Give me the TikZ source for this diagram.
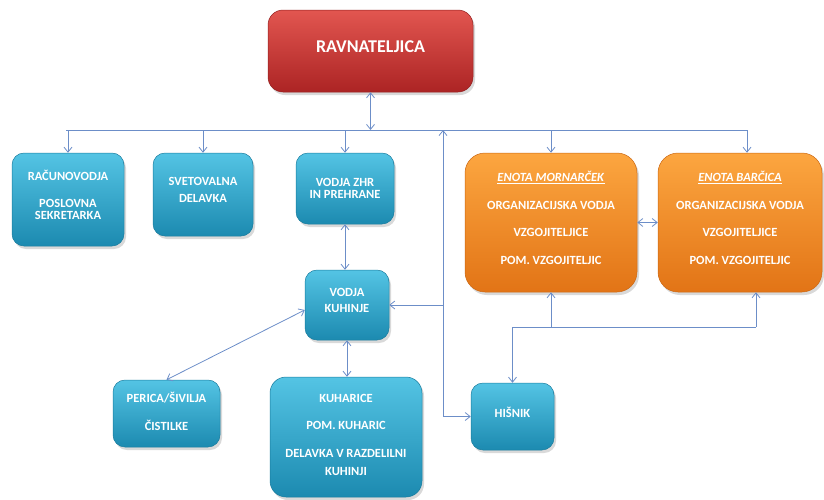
\documentclass[tikz,border=0pt]{standalone}
\usepackage{fontspec}
\setmainfont{Carlito}
\usepackage{xcolor}
\usetikzlibrary{arrows.meta, positioning, shadows}

\definecolor{cyantop}{RGB}{84,196,228}
\definecolor{cyanbot}{RGB}{28,138,176}
\definecolor{redtop}{RGB}{226,86,80}
\definecolor{redbot}{RGB}{172,36,36}
\definecolor{orgtop}{RGB}{252,166,64}
\definecolor{orgbot}{RGB}{226,116,22}
\definecolor{linkblue}{RGB}{108,142,200}

\begin{document}
\begin{tikzpicture}[x=1pt, y=-1pt,
    % ── Box node style ───────────────────────────────────────────────
    box/.style={
        rounded corners=12pt, align=center, text=white,
        font=\fontsize{12.5}{12.5}\selectfont\bfseries,
        inner sep=2pt, text depth=9pt, line width=0.5pt,
        drop shadow={opacity=0.3, shadow xshift=2pt, shadow yshift=-3pt}
    },
    % ── Box fill colours ─────────────────────────────────────────────
    head/.style={top color=redtop, bottom color=redbot, draw=redbot!85!black},
    staff/.style={top color=cyantop, bottom color=cyanbot, draw=cyanbot!90!black},
    unit/.style={top color=orgtop, bottom color=orgbot, draw=orgbot!90!black},
    % ── Connectors: thin blue lines, open tips ───────────────────────
    link/.style={line width=0.8pt, draw=linkblue},
    arrow/.style={link, -{Straight Barb[length=5pt, width=8pt]}},
    twoway/.style={link, {Straight Barb[length=5pt, width=8pt]}-{Straight Barb[length=5pt, width=8pt]}}
]
\useasboundingbox (0,0) rectangle (824,499);

% ══════════════════════════════════════════════════════════════════════
% NODE PLACEMENT
% ══════════════════════════════════════════════════════════════════════

    % ── Head ──────────────────────────────────────────────────────
    \node[box, head, minimum width=205pt, minimum height=82pt,
          rounded corners=15pt, font=\fontsize{18}{18}\selectfont\bfseries]
        (ravn) at (370.5, 51) {RAVNATELJICA};

    % ── First row ─────────────────────────────────────────────────
    \node[box, staff, minimum width=112pt, minimum height=93pt]
        (racun) at (68, 199.5) {
        RAČUNOVODJA\\[14pt]
        POSLOVNA\\SEKRETARKA
    };
    \node[box, staff, minimum width=100pt, minimum height=83pt]
        (svet) at (203, 194.5) {SVETOVALNA\\[4pt]DELAVKA};
    \node[box, staff, minimum width=98pt, minimum height=71pt, text depth=0pt]
        (zhr) at (345, 188.5) {VODJA ZHR\\IN PREHRANE};
    \node[box, unit, minimum width=172pt, minimum height=139pt,
          rounded corners=20pt]
        (morn) at (551, 222.5) {
        \underline{\textit{ENOTA MORNARČEK}}\\[15pt]
        ORGANIZACIJSKA VODJA\\[15pt]
        VZGOJITELJICE\\[15pt]
        POM. VZGOJITELJIC
    };
    \node[box, unit, minimum width=164pt, minimum height=139pt,
          rounded corners=20pt]
        (barc) at (740, 222.5) {
        \underline{\textit{ENOTA BARČICA}}\\[15pt]
        ORGANIZACIJSKA VODJA\\[15pt]
        VZGOJITELJICE\\[15pt]
        POM. VZGOJITELJIC
    };

    % ── Kitchen ───────────────────────────────────────────────────
    \node[box, staff, minimum width=84pt, minimum height=70pt]
        (kuh) at (347, 305) {VODJA\\[4pt]KUHINJE};
    \node[box, staff, minimum width=107pt, minimum height=67pt, text depth=4pt]
        (peric) at (166.5, 413.5) {PERICA/ŠIVILJA\\[15pt]ČISTILKE};
    \node[box, staff, minimum width=152pt, minimum height=120pt,
          rounded corners=16pt, text depth=4pt]
        (kuhar) at (346, 437) {
        KUHARICE\\[15pt]
        POM. KUHARIC\\[15pt]
        DELAVKA V RAZDELILNI\\[6pt]
        KUHINJI
    };
    \node[box, staff, minimum width=83pt, minimum height=67pt]
        (hisnik) at (512.5, 416.5) {HIŠNIK};

% ══════════════════════════════════════════════════════════════════════
% CONNECTIONS
% ══════════════════════════════════════════════════════════════════════

    \coordinate (busL) at (66, 130);
    \coordinate (busR) at (747, 130);
    \coordinate (busM) at (443, 130);

    \draw[twoway] (ravn.south) -- (ravn.south |- busL);
    \draw[link] (busL) -- (busR);

    \draw[arrow] (racun.north |- busL) -- (racun.north);
    \draw[arrow] (svet.north |- busL) -- (svet.north);
    \draw[arrow] (zhr.north |- busL) -- (zhr.north);
    \draw[arrow] (morn.north |- busL) -- (morn.north);
    \draw[arrow] (busR) -- (busR |- barc.north);

    % ── Feeder down the middle ───────────────────────────────────
    \draw[twoway] (busM) |- (hisnik.west);
    \draw[arrow] (busM |- kuh.east) -- (kuh.east);

    \draw[twoway] (zhr.south) -- (zhr.south |- kuh.north);
    \draw[twoway] (kuh.south) -- (kuh.south |- kuhar.north);
    \draw[twoway] ([yshift=-5pt]kuh.west) -- (peric.north);

    \draw[twoway] (morn.east) -- (barc.west);

    % ── Caretaker to both units ──────────────────────────────────
    \coordinate (hbus) at (hisnik.north |- 0, 327);
    \coordinate (hR) at (756, 327);
    \draw[arrow] (hbus) -- (hisnik.north);
    \draw[link] (hbus) -- (hR);
    \draw[arrow] (hbus -| morn.south) -- (morn.south);
    \draw[arrow] (hR) -- (hR |- barc.south);

\end{tikzpicture}
\end{document}
